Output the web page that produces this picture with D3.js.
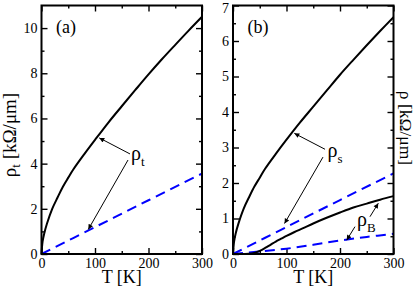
<!DOCTYPE html>
<html><head><meta charset="utf-8">
<script src="https://cdn.jsdelivr.net/npm/d3@7"></script>
<style>
body{margin:0;background:#fff}
svg{display:block}
svg text, svg tspan{font-family:'Liberation Serif' !important}
</style>
</head><body>
<svg id="chart" width="415" height="287"></svg>
<script>
// ---------- data ----------
// panel (a)
const tempA = [0,2,5,10,20,30,40,50,60,80,100,125,150,175,200,225,250,275,300];
const rhoTotal = [0,0.55,0.9,1.33,2.0,2.5,2.98,3.38,3.76,4.42,5.05,5.82,6.54,7.25,7.95,8.62,9.26,9.89,10.5];
const tempLinA = [0,100,200,300];
const rhoTotalLin = [0,1.19,2.38,3.56];
// panel (b)
const tempS = [0,2,5,10,20,30,40,50,60,80,100,125,150,175,200,225,250,275,300];
const rhoS = [0,0.35,0.58,0.85,1.28,1.6,1.9,2.15,2.4,2.82,3.22,3.7,4.15,4.6,5.05,5.47,5.88,6.28,6.67];
const tempLinS = [0,100,200,300];
const rhoSLin = [0,0.76,1.52,2.27];
const tempB = [0,10,20,30,40,50,60,70,80,90,100,115,130,150,175,200,225,250,275,300];
const rhoB = [0,0,0,0.005,0.03,0.09,0.17,0.26,0.35,0.43,0.51,0.62,0.72,0.86,1.02,1.17,1.31,1.42,1.53,1.63];
const tempLinB = [0,50,100,150,200,250,300];
const rhoBLin = [0,0.07,0.15,0.26,0.38,0.48,0.57];
// ticks
const xMajor = [0,100,200,300];
const xMinor = [50,150,250];
const yMajorA = [0,2,4,6,8,10];
const yMinorA = [1,3,5,7,9];
const yMajorB = [0,1,2,3,4,5,6,7];
const yMinorB = [0.5,1.5,2.5,3.5,4.5,5.5,6.5];
// annotations (data coordinates)
const arrowsA = [[165.4,4.43,108,5.14],[161.7,4.16,87.5,1.09]];
const labelA = {t:167.5, r:4.14, main:"ρ", sub:"t"};
const arrowsB = [[172,2.95,114.6,3.40],[168.2,2.73,96.3,0.86],[256,1.05,271.6,1.43],[228,0.77,212.5,0.39]];
const labelsB = [{t:176.6, r:2.72, main:"ρ", sub:"s"},{t:231.8, r:0.775, main:"ρ", sub:"B"}];

// ---------- drawing ----------
const FONT = "Liberation Serif";
const svg = d3.select("#chart");
const BLUE = "#0000ff";
const plotTop = 5.5, plotBottom = 254;

svg.append("defs").append("marker")
  .attr("id","ah").attr("viewBox","0 0 10 10").attr("refX",10).attr("refY",5)
  .attr("markerWidth",7).attr("markerHeight",5).attr("markerUnits","userSpaceOnUse")
  .attr("orient","auto")
  .append("path").attr("d","M0,0L10,5L0,10Z").attr("fill","#000");

function panel(cfg){
  const x = d3.scaleLinear().domain([0,300]).range([cfg.x0,cfg.x1]);
  const y = d3.scaleLinear().domain([0,cfg.ymax]).range([plotBottom,plotTop]);
  const g = svg.append("g");
  const fmt = d3.format("d");
  const style = sel => {
    sel.attr("font-family",FONT);
    sel.select(".domain").remove();
    sel.selectAll("line").attr("stroke","#000").attr("stroke-width",1.4);
    sel.selectAll("text").attr("fill","#000").style("font-size","14px");
  };
  g.append("g").attr("transform",`translate(0,${plotBottom})`)
    .call(d3.axisBottom(x).tickValues(xMajor).tickSize(-6).tickPadding(4).tickFormat(fmt)).call(style);
  g.append("g").attr("transform",`translate(0,${plotBottom})`)
    .call(d3.axisBottom(x).tickValues(xMinor).tickSize(-3).tickFormat("")).call(style);
  g.append("g").attr("transform",`translate(0,${plotTop})`)
    .call(d3.axisTop(x).tickValues(xMajor).tickSize(-6).tickFormat("")).call(style);
  g.append("g").attr("transform",`translate(0,${plotTop})`)
    .call(d3.axisTop(x).tickValues(xMinor).tickSize(-3).tickFormat("")).call(style);
  const yl = g.append("g").attr("transform",`translate(${cfg.x0},0)`)
    .call(d3.axisLeft(y).tickValues(cfg.yMajor).tickSize(-6).tickPadding(4).tickFormat(fmt)).call(style);
  yl.selectAll("text").filter(d=>d===cfg.ymax).attr("dy","0.5em");
  g.append("g").attr("transform",`translate(${cfg.x0},0)`)
    .call(d3.axisLeft(y).tickValues(cfg.yMinor).tickSize(-3).tickFormat("")).call(style);
  g.append("g").attr("transform",`translate(${cfg.x1},0)`)
    .call(d3.axisRight(y).tickValues(cfg.yMajor).tickSize(-6).tickFormat("")).call(style);
  g.append("g").attr("transform",`translate(${cfg.x1},0)`)
    .call(d3.axisRight(y).tickValues(cfg.yMinor).tickSize(-3).tickFormat("")).call(style);

  const line = d3.line().x(d=>x(d[0])).y(d=>y(d[1])).curve(d3.curveCatmullRom.alpha(0.5));
  cfg.series.forEach(s=>{
    g.append("path").datum(s.t.map((t,i)=>[t,s.v[i]]))
      .attr("d",line).attr("fill","none")
      .attr("stroke",s.dash?BLUE:"#000").attr("stroke-width",2)
      .attr("stroke-dasharray",s.dash?"10,6":null);
  });
  cfg.arrows.forEach(a=>{
    g.append("line").attr("x1",x(a[0])).attr("y1",y(a[1])).attr("x2",x(a[2])).attr("y2",y(a[3]))
      .attr("stroke","#000").attr("stroke-width",1).attr("marker-end","url(#ah)");
  });
  cfg.labels.forEach(l=>{
    const t = g.append("text").attr("x",x(l.t)).attr("y",y(l.r)).style("font-size","20px");
    t.append("tspan").text(l.main);
    t.append("tspan").attr("dy",6).style("font-size","13px").text(l.sub);
  });
  g.append("rect").attr("x",cfg.x0).attr("y",plotTop).attr("width",cfg.x1-cfg.x0).attr("height",plotBottom-plotTop)
    .attr("fill","none").attr("stroke","#000").attr("stroke-width",2);
  g.append("text").attr("x",cfg.x0+14.5).attr("y",33).style("font-size","18px").text(cfg.tag);
  g.append("text").attr("x",(cfg.x0+cfg.x1)/2).attr("y",282.5).attr("text-anchor","middle")
    .style("font-size","18px").text("T [K]");
}

panel({x0:41.5,x1:202,ymax:11,yMajor:yMajorA,yMinor:yMinorA,tag:"(a)",
  series:[{t:tempLinA,v:rhoTotalLin,dash:true},{t:tempA,v:rhoTotal}],
  arrows:arrowsA,labels:[labelA]});
panel({x0:233,x1:393.5,ymax:7,yMajor:yMajorB,yMinor:yMinorB,tag:"(b)",
  series:[{t:tempLinS,v:rhoSLin,dash:true},{t:tempLinB,v:rhoBLin,dash:true},{t:tempS,v:rhoS},{t:tempB,v:rhoB}],
  arrows:arrowsB,labels:labelsB});

// axis titles
const ylab = svg.append("text").attr("transform","translate(16,135) rotate(-90)")
  .attr("text-anchor","middle").style("font-size","19px");
ylab.append("tspan").text("ρ");
ylab.append("tspan").attr("dy",4).style("font-size","13px").text("t");
ylab.append("tspan").attr("dy",-4).text(" [kΩ/μm]");
svg.append("text").attr("transform","translate(400,128) rotate(90)")
  .attr("text-anchor","middle").style("font-size","17.5px").text("ρ [kΩ/μm]");

svg.selectAll("text").attr("font-family",FONT).style("font-family","'Liberation Serif'");
</script>
</body></html>
